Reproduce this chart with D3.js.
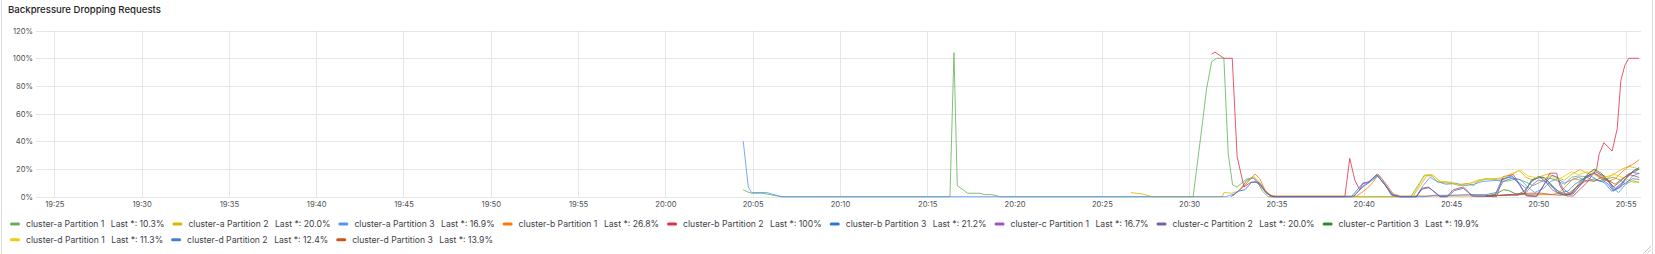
<!DOCTYPE html>
<html>
<head>
<meta charset="utf-8">
<script src="https://cdn.jsdelivr.net/npm/d3@7"></script>
<style>
  html, body { margin: 0; padding: 0; background: #ffffff; }
  svg { display: block; font-family: Inter, "Noto Sans", sans-serif; }
</style>
</head>
<body>
<svg id="chart" width="1655" height="254"></svg>
<script>
// ---------------- DATA ----------------
const title = "Backpressure Dropping Requests";
const seriesNames = [
  "cluster-a Partition 1", "cluster-a Partition 2", "cluster-a Partition 3",
  "cluster-b Partition 1", "cluster-b Partition 2", "cluster-b Partition 3",
  "cluster-c Partition 1", "cluster-c Partition 2", "cluster-c Partition 3",
  "cluster-d Partition 1", "cluster-d Partition 2", "cluster-d Partition 3"
];
const yTicks = [0, 20, 40, 60, 80, 100, 120];           // percent
const timeStart = "19:23:57", timeEnd = "20:55:53";      // visible range
const dataBaseTime = "20:00:00";                          // minute offsets below are relative to this

// [minutes after 20:00, percent]
const clusterA_P1 = [[4.45,5],[4.7,3.5],[4.95,2.5],[5.5,2.5],[5.8,2],[6.2,1],[6.65,0],[16.3,0],[16.53,104],[16.72,8],[17.06,5],[17.3,2.5],[18.0,2.5],[18.3,1.5],[18.7,1.5],[19.16,0],[30.23,0],[30.5,27],[30.75,52],[31.0,78],[31.29,97.5],[31.57,100],[31.99,100],[32.24,31],[32.49,8.5],[32.75,7],[33.29,12.8],[33.67,13.7],[33.95,10],[34.2,4],[34.53,0],[42.7,0],[43.2,10],[43.47,15.5],[43.85,15.5],[44.25,10.5],[44.7,10],[45.1,9.5],[45.5,8],[45.9,9.5],[46.3,8],[46.6,12],[47.0,13],[47.5,12.5],[47.9,11],[48.3,11.5],[48.8,13],[49.3,10.5],[49.7,8],[50.2,11],[50.6,13.5],[51.0,12],[51.5,9],[51.9,14],[52.3,15],[52.7,14.5],[53.1,12],[53.5,11.5],[53.9,13],[54.3,14],[54.7,12],[55.0,9],[55.4,11.5],[55.78,10.3]];
const clusterA_P2 = [[26.67,3],[27.3,2],[27.9,0],[31.9,0],[32.0,3],[32.44,2.5],[32.8,4],[33.3,11],[33.7,14.5],[34.0,11],[34.4,4],[34.8,0],[42.8,0],[43.3,9],[43.6,15],[44.0,15],[44.4,11],[45.0,10.5],[45.5,9],[46.0,9.5],[46.5,11],[47.0,12.5],[47.5,13],[48.0,13],[48.5,16],[48.9,19],[49.3,14],[49.7,12],[50.2,15],[50.6,16.5],[51.0,14],[51.5,12],[52.0,17],[52.4,19.5],[52.8,17],[53.2,19],[53.6,16],[54.0,14],[54.4,17],[54.8,20],[55.2,22],[55.5,21],[55.78,20.0]];
const clusterA_P3 = [[4.46,40],[4.75,7],[4.94,3],[5.8,3],[6.66,0],[32.1,0],[32.6,2],[33.0,6],[33.29,12],[33.67,13.5],[34.1,9],[34.5,2],[34.9,0],[39.4,0],[39.97,8],[40.25,10],[40.8,16.5],[41.2,10],[41.6,2],[42.07,0],[43.0,0],[43.4,8],[43.8,14],[44.2,11],[44.7,9],[45.3,9.5],[45.8,8],[46.3,9],[46.8,11],[47.3,11.5],[47.8,12],[48.3,14],[48.7,13],[49.0,12],[49.4,7],[49.8,3],[50.3,6],[50.7,11],[51.1,13],[51.5,10],[51.9,12],[52.3,14],[52.8,11],[53.2,13],[53.6,11],[54.0,12],[54.3,6],[54.6,3],[55.0,9],[55.4,15],[55.78,16.9]];
const clusterB_P1 = [[32.5,0.5],[33.1,7],[33.77,16.4],[34.05,13],[34.34,5],[34.63,1],[35.0,0.5],[39.6,0.5],[40.2,6],[40.5,10],[40.85,16],[41.3,9],[41.7,2],[42.1,0.5],[47.0,0.5],[48.0,1],[49.0,1.5],[50.0,1.5],[50.8,1.5],[51.2,3],[51.6,8],[52.0,13],[52.4,12],[52.8,14],[53.2,17],[53.6,15],[54.0,11],[54.4,13],[54.8,18],[55.2,22],[55.5,24],[55.78,26.8]];
const clusterB_P2 = [[31.29,103],[31.48,104.5],[31.99,100],[32.47,100],[32.75,29],[33.14,7],[33.48,10],[33.8,11],[34.05,8.5],[34.4,3],[34.72,0],[38.92,0],[39.2,27.7],[39.49,12],[39.77,5],[39.97,10],[40.26,10],[40.74,16],[41.22,8.5],[41.6,1],[42.07,0],[43.03,0],[43.32,6],[43.69,7],[43.89,5],[44.37,0],[44.75,0],[45.13,5],[45.7,7],[45.89,5],[46.18,0.5],[47.61,0],[47.99,14.5],[48.56,16],[48.95,8.5],[49.33,0.5],[49.9,0],[50.3,8],[50.66,17],[51.05,17],[51.24,8],[51.62,0.5],[52.0,0.5],[52.77,10],[53.34,20],[53.49,31],[53.76,39],[54.23,33],[54.52,49],[54.73,84],[54.96,95],[55.19,100],[55.78,100]];
const clusterB_P3 = [[32.4,0],[32.82,4],[33.2,5],[33.58,10.5],[34.0,10],[34.4,3],[34.8,0],[39.3,0],[39.9,9],[40.3,11],[40.75,15.5],[41.2,9],[41.6,1.5],[42.0,0],[43.0,0],[43.35,5.5],[43.75,6.5],[44.0,4],[44.4,0],[44.8,0],[45.2,4.5],[45.7,6],[46.0,3],[46.3,0.5],[47.5,0.5],[47.9,12],[48.5,15],[48.9,9],[49.3,1],[49.9,0.5],[50.4,10],[50.8,15.5],[51.1,14],[51.4,6],[51.8,2],[52.3,8],[52.8,15],[53.2,17],[53.6,13],[54.0,9],[54.3,4],[54.7,8],[55.1,15],[55.5,19],[55.78,21.2]];
const clusterC_P1 = [[47.0,0.5],[47.8,1],[48.3,1.5],[48.8,1],[49.3,3],[49.7,9],[50.0,12],[50.4,11],[50.8,5],[51.2,2],[51.6,1],[52.0,3],[52.4,8],[52.8,15],[53.2,17],[53.6,14],[54.0,11],[54.3,5],[54.7,7],[55.1,14],[55.4,17.5],[55.78,16.7]];
const clusterC_P2 = [[47.0,0.5],[47.6,1],[48.2,1],[48.8,1.5],[49.2,4],[49.6,11],[50.0,14],[50.4,13.5],[50.8,8],[51.2,3],[51.6,1.5],[52.0,2],[52.5,10],[52.9,16],[53.3,18],[53.7,15],[54.1,10],[54.4,6],[54.8,10],[55.2,16],[55.5,19],[55.78,20.0]];
const clusterC_P3 = [[47.0,0.5],[47.6,2],[48.0,5],[48.3,4.5],[48.7,2],[49.2,2],[49.6,12],[50.0,14.5],[50.3,14],[50.7,9],[51.1,3],[51.5,1],[51.9,2],[52.3,9],[52.8,16],[53.2,20],[53.6,17],[54.0,12],[54.3,7],[54.7,11],[55.1,16],[55.5,18],[55.78,19.9]];
const clusterD_P1 = [[42.8,0],[43.25,10],[43.55,16],[43.95,16],[44.35,11],[45.0,10],[45.5,8.5],[46.0,9],[46.5,12],[47.0,12.5],[47.5,13],[48.0,14],[48.5,17],[49.0,19],[49.4,15],[49.8,14],[50.3,13],[50.7,15],[51.1,12],[51.5,15],[51.9,18],[52.3,16],[52.8,18],[53.2,16],[53.6,13],[54.0,15],[54.4,16],[54.8,14],[55.2,12],[55.5,10],[55.78,11.3]];
const clusterD_P2 = [[39.4,0],[39.95,7],[40.4,11],[40.8,15],[41.25,8],[41.7,1],[42.1,0],[43.5,0],[44.0,1],[45.0,1],[46.0,1.5],[47.0,1.5],[47.6,3],[48.0,11],[48.5,13.5],[48.9,10],[49.3,6],[49.7,12],[50.1,14],[50.5,10],[50.9,6],[51.3,3],[51.7,4],[52.1,9],[52.6,13],[53.0,15],[53.4,12],[53.8,10],[54.2,4],[54.6,6],[55.0,10],[55.4,13],[55.78,12.4]];
const clusterD_P3 = [[47.0,0.5],[48.0,1],[48.8,2],[49.5,2.5],[50.2,2.5],[50.8,1.5],[51.3,1],[51.8,3],[52.3,8],[52.8,12],[53.2,11],[53.6,14],[54.0,12],[54.4,9],[54.8,13],[55.2,16],[55.5,15],[55.78,13.9]];

const seriesData = [clusterA_P1, clusterA_P2, clusterA_P3, clusterB_P1, clusterB_P2, clusterB_P3,
                    clusterC_P1, clusterC_P2, clusterC_P3, clusterD_P1, clusterD_P2, clusterD_P3];

// ---------------- STYLE ----------------
const colors = ["#64B05A", "#E0B400", "#5794F2", "#FF780A", "#E02F44", "#3274D9",
                "#A352CC", "#7B5EA7", "#37872D", "#F2CC0C", "#4A7FC4", "#C4581A"];

// ---------------- DRAW ----------------
const svg = d3.select("#chart");
const parseT = d3.timeParse("%Y-%m-%d %H:%M:%S");
const day = "2024-01-01 ";
const base = parseT(day + dataBaseTime);
const toDate = m => new Date(base.getTime() + m * 60000);

const plotLeft = 36, plotRight = 1641, plotTop = 30.6, plotBottom = 196.7;

const x = d3.scaleTime()
  .domain([parseT(day + timeStart), parseT(day + timeEnd)])
  .range([plotLeft, plotRight]);
const y = d3.scaleLinear().domain([0, 120]).range([plotBottom, plotTop]);

// panel borders
svg.append("line").attr("x1", 1.5).attr("x2", 1.5).attr("y1", 0).attr("y2", 254)
  .attr("stroke", "#dcdde0");
svg.append("line").attr("x1", 1652.5).attr("x2", 1652.5).attr("y1", 0).attr("y2", 254)
  .attr("stroke", "#dcdde0");
// resize handle
svg.append("path").attr("d", "M1644,253 L1651,246 M1647.5,253 L1651,249.5")
  .attr("stroke", "#b8b8bc").attr("stroke-width", 0.8);

// title
svg.append("text").attr("x", 8).attr("y", 12.5)
  .attr("font-size", 9.6).attr("font-weight", 500).attr("fill", "#1e2025")
  .text(title);

// grid
const xTicks = x.ticks(d3.timeMinute.every(5));
svg.append("g").attr("class", "ygrid")
  .selectAll("line").data(yTicks).join("line")
  .attr("x1", plotLeft).attr("x2", plotRight)
  .attr("y1", d => Math.round(y(d)) + 0.5).attr("y2", d => Math.round(y(d)) + 0.5)
  .attr("stroke", "#e6e6e8");
svg.append("g").attr("class", "xgrid")
  .selectAll("line").data(xTicks).join("line")
  .attr("x1", d => Math.round(x(d)) + 0.5).attr("x2", d => Math.round(x(d)) + 0.5)
  .attr("y1", plotTop).attr("y2", plotBottom)
  .attr("stroke", "#e6e6e8");

// axes (labels only)
const yAxis = d3.axisLeft(y).tickValues(yTicks).tickSize(0).tickPadding(0)
  .tickFormat(d => d + "%");
const gy = svg.append("g").attr("transform", `translate(${plotLeft - 3},0)`).call(yAxis);
gy.select(".domain").remove();
gy.selectAll("text").attr("font-size", 7.6).attr("fill", "#4b4f55")
  .attr("font-family", "Inter, sans-serif");

const xAxis = d3.axisBottom(x).tickValues(xTicks).tickSize(0).tickPadding(0)
  .tickFormat(d3.timeFormat("%H:%M"));
const gx = svg.append("g").attr("transform", `translate(0,${plotBottom + 5})`).call(xAxis);
gx.select(".domain").remove();
gx.selectAll("text").attr("font-size", 7.6).attr("fill", "#4b4f55")
  .attr("font-family", "Inter, sans-serif");

// lines
const line = d3.line().x(d => x(toDate(d[0]))).y(d => y(d[1]));
svg.append("g").attr("class", "series")
  .selectAll("path").data(seriesData).join("path")
  .attr("d", line)
  .attr("fill", "none")
  .attr("stroke", (d, i) => colors[i])
  .attr("stroke-width", 1)
  .attr("stroke-opacity", 0.8)
  .attr("stroke-linejoin", "round");

// legend
const fmtLast = v => (v >= 100 ? d3.format(".0f")(v) : d3.format(".1f")(v)) + "%";
const legend = svg.append("g").attr("class", "legend");
const legendFont = 8.65;
let lx = 10, ly = 224;
const rowH = 15.7, maxX = 1640;
seriesNames.forEach((name, i) => {
  const g = legend.append("g");
  const t1 = g.append("text").attr("font-size", legendFont).attr("fill", "#3d4147")
    .attr("dominant-baseline", "central").text(name);
  const w1 = t1.node().getComputedTextLength();
  const last = seriesData[i][seriesData[i].length - 1][1];
  const t2 = g.append("text").attr("font-size", legendFont).attr("fill", "#3d4147")
    .attr("dominant-baseline", "central").text("Last *: " + fmtLast(last));
  const w2 = t2.node().getComputedTextLength();
  const itemW = 16 + w1 + 6.5 + w2;
  if (lx + itemW > maxX) { lx = 10; ly += rowH; }
  g.append("rect").attr("x", lx).attr("y", ly - 1.5).attr("width", 10).attr("height", 3)
    .attr("rx", 1.5).attr("fill", colors[i]);
  t1.attr("x", lx + 16).attr("y", ly);
  t2.attr("x", lx + 16 + w1 + 6.5).attr("y", ly);
  lx += itemW + 8;
});
</script>
</body>
</html>
